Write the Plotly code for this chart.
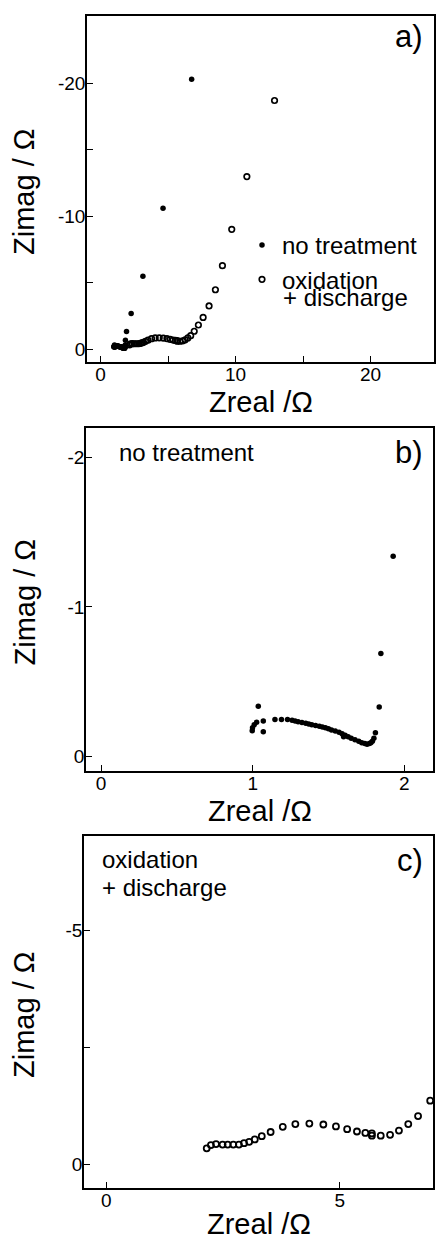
import plotly.graph_objects as go

# ---------------- data ----------------
# "no treatment" impedance: Zreal / Ohm and Zimag / Ohm (Zimag negative)
nt_zreal = [0.997, 0.999, 1.01, 1.026, 1.037, 1.07, 1.07,
            1.147, 1.19, 1.23, 1.26, 1.28, 1.30, 1.325, 1.35, 1.37, 1.39,
            1.415, 1.44, 1.46, 1.48, 1.50, 1.52, 1.545, 1.57, 1.59, 1.60,
            1.61, 1.63, 1.65, 1.675, 1.70, 1.72, 1.74, 1.755, 1.77, 1.78,
            1.79, 1.80, 1.81, 1.835, 1.846, 1.927, 2.27, 3.14, 4.63, 6.75]
nt_zimag = [-0.17, -0.19, -0.21, -0.227, -0.335, -0.235, -0.163,
            -0.246, -0.246, -0.246, -0.24, -0.236, -0.23, -0.225, -0.22, -0.215, -0.21,
            -0.205, -0.2, -0.195, -0.19, -0.183, -0.175, -0.168, -0.16, -0.15, -0.13,
            -0.14, -0.13, -0.12, -0.11, -0.1, -0.09, -0.085, -0.08, -0.085, -0.09,
            -0.1, -0.12, -0.157, -0.329, -0.688, -1.34, -2.7, -5.49, -10.6, -20.3]

# "oxidation + discharge" impedance
ox_zreal = [2.15, 2.24, 2.35, 2.49, 2.60, 2.72, 2.84, 2.95, 3.06, 3.18, 3.33,
            3.52, 3.78, 4.05, 4.35, 4.65, 4.92, 5.16, 5.37, 5.55, 5.69, 5.69,
            5.88, 6.08, 6.27, 6.47, 6.68, 6.94, 7.25, 7.60, 8.04, 8.51, 9.03,
            9.72, 10.84, 12.89]
ox_zimag = [-0.34, -0.41, -0.43, -0.42, -0.42, -0.42, -0.42, -0.45, -0.48, -0.53, -0.6,
            -0.69, -0.8, -0.86, -0.87, -0.85, -0.81, -0.75, -0.7, -0.67, -0.66, -0.61,
            -0.61, -0.63, -0.72, -0.86, -1.03, -1.36, -1.83, -2.4, -3.26, -4.48, -6.29,
            -9.02, -12.98, -18.7]

series_names = ["no treatment", "oxidation", "+ discharge"]
panel_labels = ["a)", "b)", "c)"]
x_title = "Zreal /Ω"
y_title = "Zimag / Ω"

# axis ticks per panel
a_xticks, a_xminor = [0, 10, 20], [5, 15]
a_yticks, a_yminor = [0, -10, -20], [-5, -15]
b_xticks = [0, 1, 2]
b_yticks = [0, -1, -2]
c_xticks = [0, 5]
c_yticks, c_yminor = [0, -5], [-2.5]

def lab(v):
    return "-%g" % abs(v) if v < 0 else "%g" % v

# ---------------- layout geometry ----------------
W, H = 436, 1239
FONT = "Liberation Sans, Arial, Helvetica, sans-serif"

def xd(px):
    return px / W

def yd(py):
    return 1 - py / H

panels = {
    # left, right, top, bottom (pixels)
    "a": (87, 434, 16, 362),
    "b": (86, 433, 428, 771),
    "c": (84, 433, 836, 1188),
}

fig = go.Figure()

dot = dict(symbol="circle", size=5.5, color="black")
ring = dict(symbol="circle-open", size=5.5, color="black", line=dict(width=1.7, color="black"))

fig.add_trace(go.Scatter(x=nt_zreal, y=nt_zimag, mode="markers", marker=dot,
                         name=series_names[0], xaxis="x", yaxis="y"))
fig.add_trace(go.Scatter(x=ox_zreal, y=ox_zimag, mode="markers", marker=ring,
                         name=series_names[1], xaxis="x", yaxis="y"))
fig.add_trace(go.Scatter(x=nt_zreal, y=nt_zimag, mode="markers",
                         marker=dict(symbol="circle", size=5.5, color="black"),
                         showlegend=False, xaxis="x2", yaxis="y2"))
fig.add_trace(go.Scatter(x=ox_zreal, y=ox_zimag, mode="markers",
                         marker=dict(symbol="circle-open", size=6, color="black",
                                     line=dict(width=1.8, color="black")),
                         showlegend=False, xaxis="x3", yaxis="y3"))

def axis(domain, rng, tickvals, minor=None, anchor=None, standoff=0):
    d = dict(domain=domain, range=rng, anchor=anchor,
             tickmode="array", tickvals=tickvals, ticktext=[lab(v) for v in tickvals],
             ticks="inside", ticklen=6, tickwidth=1.2, tickcolor="black",
             showline=True, linewidth=1.7, linecolor="black", mirror=True,
             showgrid=False, zeroline=False, ticklabelstandoff=standoff,
             tickfont=dict(family=FONT, size=19, color="black"))
    if minor:
        d["minor"] = dict(tickmode="array", tickvals=minor, ticks="inside",
                          ticklen=6, tickwidth=1.2, tickcolor="black", showgrid=False)
    return d

la, ra, ta, ba = panels["a"]
lb, rb, tb, bb = panels["b"]
lc, rc, tc, bc = panels["c"]

fig.update_layout(
    xaxis=axis([xd(la), xd(ra)], [-1, 24.7], a_xticks, a_xminor, "y", -6),
    yaxis=axis([yd(ba), yd(ta)], [0.95, -25.05], a_yticks, a_yminor, "x", -4),
    xaxis2=axis([xd(lb), xd(rb)], [-0.1, 2.19], b_xticks, None, "y2", -6),
    yaxis2=axis([yd(bb), yd(tb)], [0.1, -2.2], b_yticks, None, "x2", -4),
    xaxis3=axis([xd(lc), xd(rc)], [-0.48, 7.0], c_xticks, None, "y3", -6),
    yaxis3=axis([yd(bc), yd(tc)], [0.51, -7.03], c_yticks, c_yminor, "x3", -4),
)

ann = []
TXT = dict(family=FONT, color="black")

# axis titles
for (l, r, t, b), ymid in zip((panels["a"], panels["b"], panels["c"]), (402, 811, 1224)):
    ann.append(dict(text=x_title, x=xd((l + r) / 2), y=yd(ymid), xref="paper", yref="paper",
                    xanchor="center", yanchor="middle", showarrow=False,
                    font=dict(size=29, **TXT)))
    ann.append(dict(text=y_title, x=xd(24), y=yd((t + b) / 2 + 3), xref="paper", yref="paper",
                    xanchor="center", yanchor="middle", textangle=-90, showarrow=False,
                    font=dict(size=29, **TXT)))

# panel letters
for lbl, ymid in zip(panel_labels, (37, 452, 860)):
    ann.append(dict(text=lbl, x=xd(425), y=yd(ymid), xref="paper", yref="paper",
                    xanchor="right", yanchor="middle", showarrow=False,
                    font=dict(size=31, **TXT)))

# panel b / c captions
ann.append(dict(text=series_names[0], x=xd(117), y=yd(452), xref="paper", yref="paper",
                xanchor="left", yanchor="middle", showarrow=False, font=dict(size=24, **TXT)))
ann.append(dict(text=series_names[1], x=xd(100), y=yd(859), xref="paper", yref="paper",
                xanchor="left", yanchor="middle", showarrow=False, font=dict(size=24, **TXT)))
ann.append(dict(text=series_names[2], x=xd(100), y=yd(887), xref="paper", yref="paper",
                xanchor="left", yanchor="middle", showarrow=False, font=dict(size=24, **TXT)))
# second line of the legend entry in panel a
ann.append(dict(text=series_names[2], x=xd(281), y=yd(297), xref="paper", yref="paper",
                xanchor="left", yanchor="middle", showarrow=False, font=dict(size=24, **TXT)))

fig.update_layout(
    annotations=ann,
    width=W, height=H,
    margin=dict(l=0, r=0, t=0, b=0),
    paper_bgcolor="white", plot_bgcolor="white",
    showlegend=True,
    legend=dict(x=xd(242), y=yd(223), xanchor="left", yanchor="top",
                bgcolor="rgba(0,0,0,0)", borderwidth=0,
                font=dict(family=FONT, size=24, color="black")),
    font=dict(family=FONT, color="black"),
)

fig.write_html("out.html")
